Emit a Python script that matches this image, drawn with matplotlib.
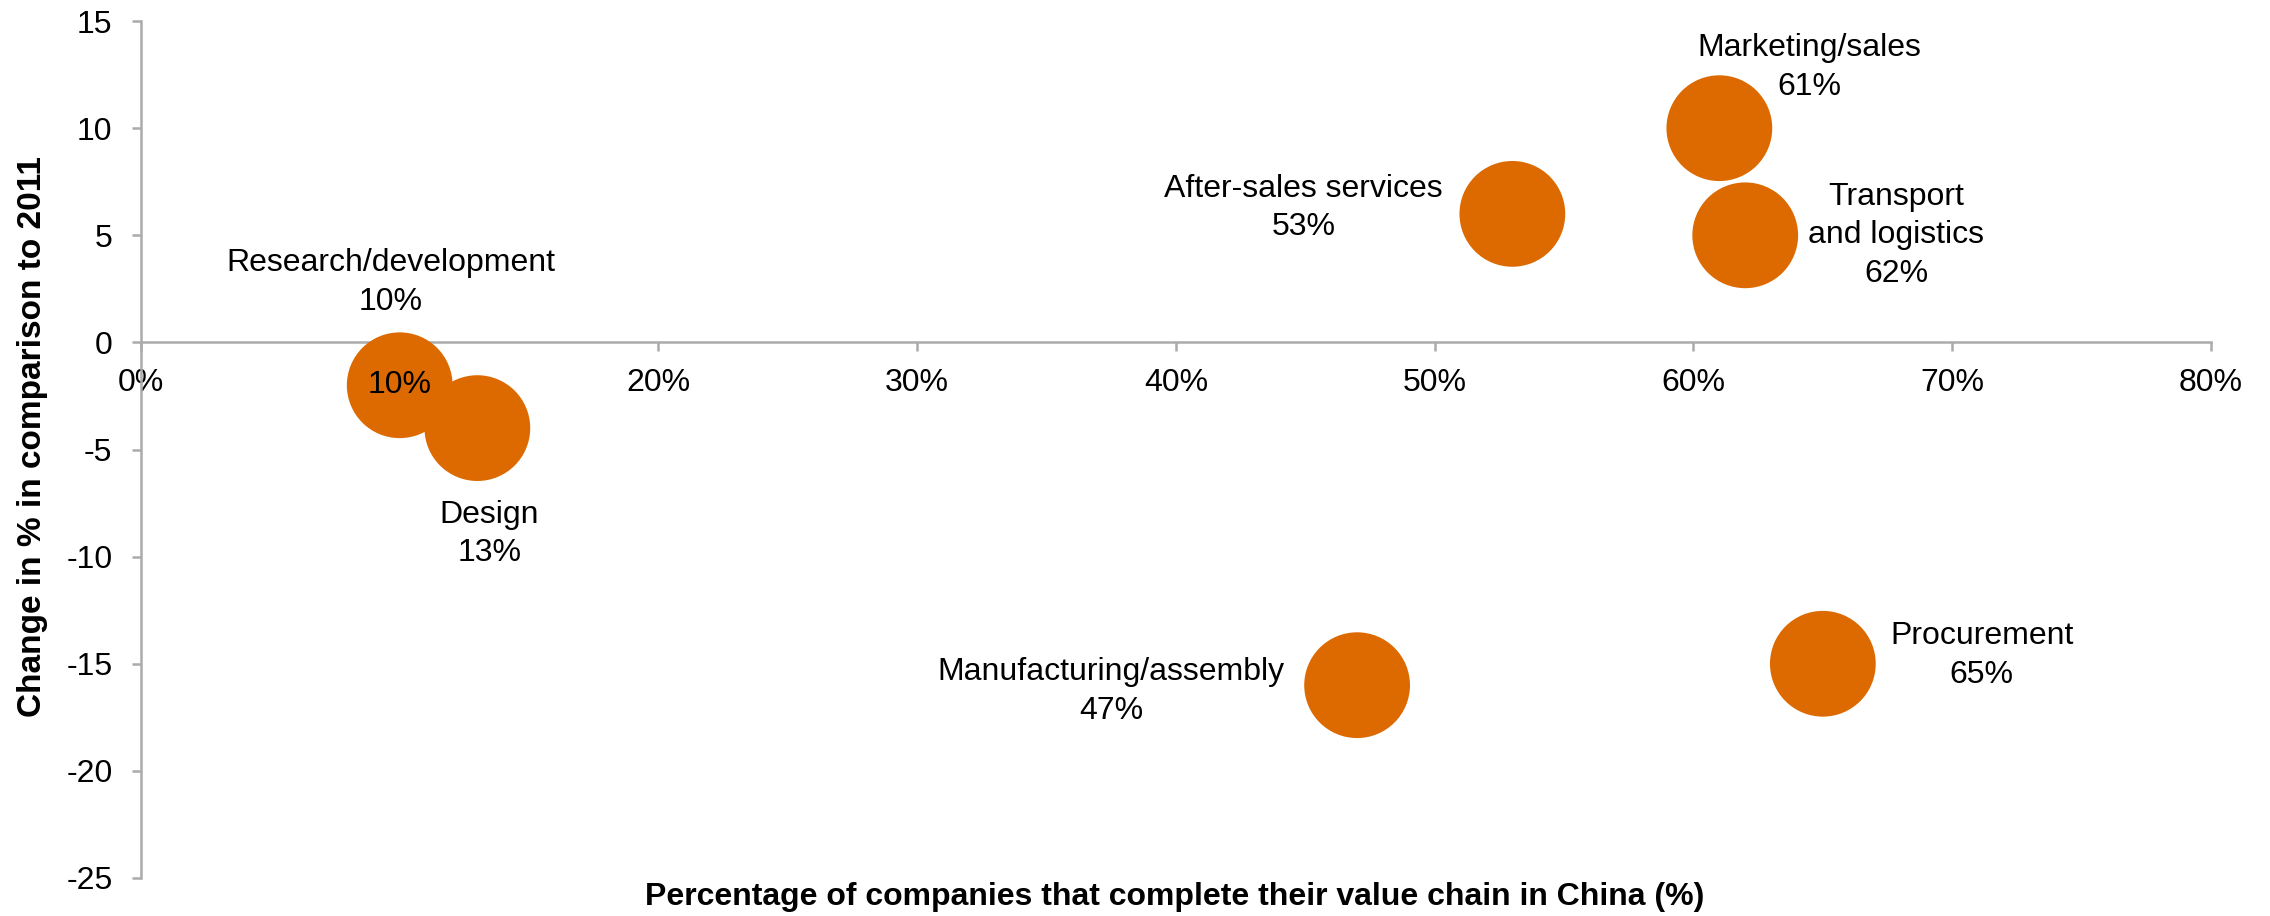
import matplotlib
matplotlib.use("Agg")
import matplotlib.pyplot as plt

# Value-chain functions completed in China vs. change since 2011
categories = ["Research/development", "Design", "After-sales services", "Marketing/sales",
              "Transport\nand logistics", "Manufacturing/assembly", "Procurement"]
share_pct = [10, 13, 53, 61, 62, 47, 65]
change_pct = [-2, -4, 6, 10, 5, -16, -15]
bubble_size = [1, 1, 1, 1, 1, 1, 1]

x_ticks = [0, 10, 20, 30, 40, 50, 60, 70, 80]
y_ticks = [-25, -20, -15, -10, -5, 0, 5, 10, 15]

plt.rcParams['font.family'] = ['Liberation Sans', 'DejaVu Sans']

DPI = 100
fig = plt.figure(figsize=(22.7, 9.16), dpi=DPI)
ax = fig.add_axes([0.0621, 0.0415, 0.9119, 0.9355])

orange = '#DC6A00'
axis_gray = '#ABABAB'

ax.scatter(share_pct, change_pct, s=[5800 * b for b in bubble_size],
           color=orange, edgecolors='none', zorder=3)

# label offsets in pixels (dx, dy) relative to each bubble centre
offsets_px = {
    "Research/development": (-9, 103),
    "Design": (12, -106),
    "After-sales services": (-209, 6),
    "Marketing/sales": (90, 61),
    "Transport\nand logistics": (151, 0),
    "Manufacturing/assembly": (-246, -6),
    "Procurement": (159, 8),
}
px2pt = 72.0 / DPI
for name, x, y in zip(categories, share_pct, change_pct):
    dx, dy = offsets_px[name]
    ax.annotate(f"{name}\n{x}%", (x, y), xytext=(dx * px2pt, dy * px2pt),
                textcoords='offset points', ha='center', va='center',
                fontsize=23, linespacing=1.38, color='black', zorder=4)

# value label sitting on the research bubble
ax.text(share_pct[0], change_pct[0], f"{share_pct[0]}%", ha='center', va='center',
        fontsize=23, color='black', zorder=4)

ax.set_xlim(0, 80)
ax.set_ylim(-25, 15)
ax.set_xticks(x_ticks)
ax.set_xticklabels([f"{t}%" for t in x_ticks])
ax.set_yticks(y_ticks)
ax.set_yticklabels([str(t) for t in y_ticks])

for side in ('top', 'right'):
    ax.spines[side].set_visible(False)
ax.spines['bottom'].set_position(('data', 0))
for side in ('bottom', 'left'):
    ax.spines[side].set_color(axis_gray)
    ax.spines[side].set_linewidth(1.8)

ax.tick_params(axis='x', direction='out', length=6.5, width=1.8, color=axis_gray,
               labelsize=23, pad=12)
ax.tick_params(axis='y', direction='out', length=6.5, width=1.8, color=axis_gray,
               labelsize=23, pad=14)

fig.text(0.0141, 0.523, "Change in % in comparison to 2011", rotation=90,
         ha='center', va='center', fontsize=24, fontweight='bold')
fig.text(0.5177, 0.021, "Percentage of companies that complete their value chain in China (%)",
         ha='center', va='center', fontsize=23, fontweight='bold')

fig.savefig("out.png", dpi=DPI)
